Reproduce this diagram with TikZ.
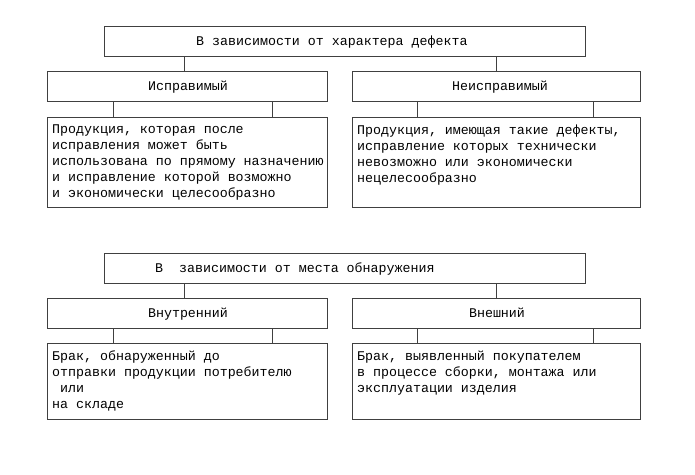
\documentclass[tikz,border=0pt]{standalone}
\usepackage{fontspec}
\setmainfont{Liberation Mono}
\begin{document}
\begin{tikzpicture}[x=1pt,y=-1pt,
  box/.style={draw=black!75,line width=1pt,rectangle,inner sep=0pt},
  lab/.style={inner sep=0pt,font=\fontsize{13.3}{15.8}\selectfont},
  txt/.style={inner sep=0pt,align=left,anchor=north west,font=\fontsize{13.3}{15.8}\selectfont},
  conn/.style={draw=black!75,line width=1pt}]
\useasboundingbox (0,0) rectangle (695,474);
% top section
\node[box,minimum width=481pt,minimum height=30pt] (t1) at (344.5,41) {};
\node[box,minimum width=280pt,minimum height=30pt] (m1) at (187,86) {};
\node[box,minimum width=288pt,minimum height=30pt] (m2) at (496,86) {};
\node[box,minimum width=280pt,minimum height=90pt] (c1) at (187,162) {};
\node[box,minimum width=288pt,minimum height=90pt] (c2) at (496,162) {};
\node[lab,anchor=base west] (t1l) at (196,45) {В зависимости от характера дефекта};
\node[lab,anchor=base] (m1l) at (188,90) {Исправимый};
\node[lab,anchor=base] (m2l) at (500,90) {Неисправимый};
\node[txt] (c1l) at (52,125) {Продукция, которая после\\исправления может быть\\использована по прямому назначению\\и исправление которой возможно\\и экономически целесообразно};
\node[txt] (c2l) at (357,125) {Продукция, имеющая такие дефекты,\\исправление которых технически\\невозможно или экономически\\нецелесообразно};
% bottom section
\node[box,minimum width=481pt,minimum height=30pt] (t2) at (344.5,268) {};
\node[box,minimum width=280pt,minimum height=30pt] (m3) at (187,313) {};
\node[box,minimum width=288pt,minimum height=30pt] (m4) at (496,313) {};
\node[box,minimum width=280pt,minimum height=76pt] (c3) at (187,381) {};
\node[box,minimum width=288pt,minimum height=76pt] (c4) at (496,381) {};
\node[lab,anchor=base west] (t2l) at (155,272) {В\ \ зависимости от места обнаружения};
\node[lab,anchor=base] (m3l) at (188,317) {Внутренний};
\node[lab,anchor=base] (m4l) at (497,317) {Внешний};
\node[txt] (c3l) at (52,351) {Брак, обнаруженный до\\отправки продукции потребителю\\\ или\\на складе};
\node[txt] (c4l) at (357,351) {Брак, выявленный покупателем\\в процессе сборки, монтажа или\\эксплуатации изделия};
% connector x positions
\coordinate (k1) at (184,0);
\coordinate (k2) at (496,0);
\coordinate (k3) at (113,0);
\coordinate (k4) at (272,0);
\coordinate (k5) at (417,0);
\coordinate (k6) at (593,0);
\draw[conn] (k1 |- t1.south) -- (k1 |- m1.north);
\draw[conn] (k2 |- t1.south) -- (k2 |- m2.north);
\draw[conn] (k3 |- m1.south) -- (k3 |- c1.north);
\draw[conn] (k4 |- m1.south) -- (k4 |- c1.north);
\draw[conn] (k5 |- m2.south) -- (k5 |- c2.north);
\draw[conn] (k6 |- m2.south) -- (k6 |- c2.north);
\draw[conn] (k1 |- t2.south) -- (k1 |- m3.north);
\draw[conn] (k2 |- t2.south) -- (k2 |- m4.north);
\draw[conn] (k3 |- m3.south) -- (k3 |- c3.north);
\draw[conn] (k4 |- m3.south) -- (k4 |- c3.north);
\draw[conn] (k5 |- m4.south) -- (k5 |- c4.north);
\draw[conn] (k6 |- m4.south) -- (k6 |- c4.north);
\end{tikzpicture}
\end{document}
